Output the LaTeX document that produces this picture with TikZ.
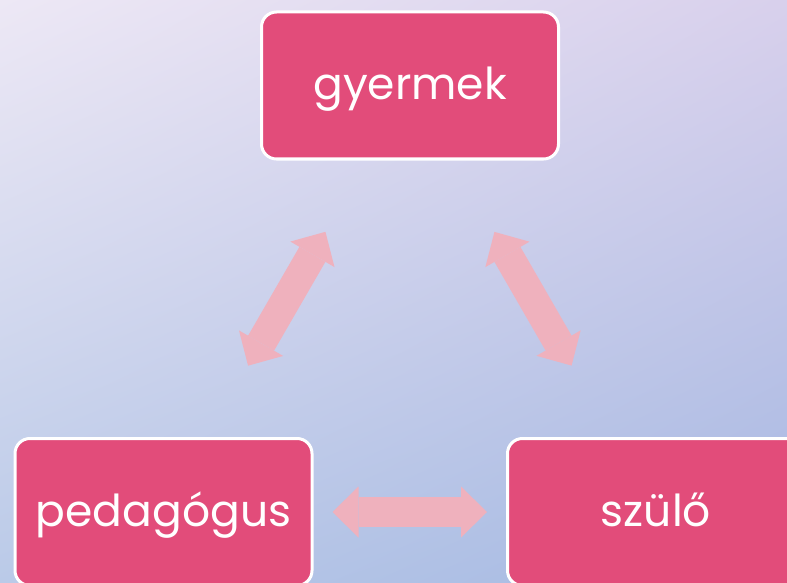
\documentclass[tikz,border=0pt]{standalone}
\usepackage{fontspec}
\setmainfont{Poppins}
\usetikzlibrary{
  arrows.meta,
  shadings,
}
\definecolor{boxpink}{HTML}{E24C7A}
\definecolor{linkpink}{HTML}{EFB1BD}
\definecolor{bgtl}{HTML}{EDE8F5}
\definecolor{bgtr}{HTML}{D8D0EC}
\definecolor{bgbl}{HTML}{BACAE8}
\definecolor{bgbr}{HTML}{A5B8E2}
\tikzset{
  >={Triangle[length=26pt,width=51pt,line width=0pt,fill=linkpink]},
}
\begin{document}
\begin{tikzpicture}[
      x=1pt, y=-1pt,
      every node/.style={
        align=center,
        text depth=0cm, % baseline the same in every box
        text height=29pt,
      },
      box/.style={draw=white,
        fill=boxpink,
        line width=3pt,
        rounded corners=15pt,
        minimum width=297pt,
        minimum height=147pt,
        text=white,
        font=\fontsize{44}{50}\selectfont,
      },
      link/.style={<->,
        color=linkpink,
        line width=30pt,
        shorten <=169pt,
        shorten >=169pt,
      },
      ]
      \clip (0,0) rectangle (787,583);
      \shade[upper left=bgtl, upper right=bgtr,
        lower left=bgbl, lower right=bgbr] (0,0) rectangle (787,583);

      \node[box] (gyermek) at (410,85.5) {gyermek};
      \node[box] (pedagogus) at (163.5,512) {pedagógus};
      \node[box] (szulo) at (656,512) {szülő};

      \path[link]
      (pedagogus.center) edge (gyermek.center)
      (gyermek.center) edge (szulo.center)
      (pedagogus.center) edge (szulo.center)
      ;
    \end{tikzpicture}
\end{document}
